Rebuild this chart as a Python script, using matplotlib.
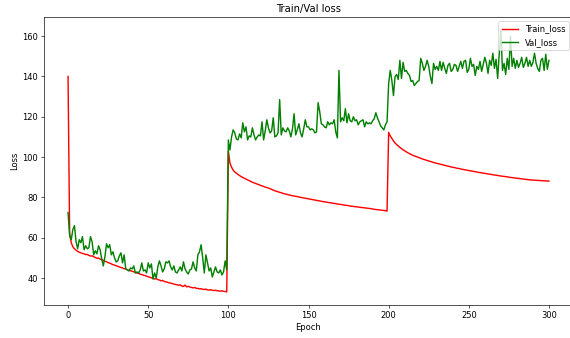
import numpy as np
import matplotlib
matplotlib.use("Agg")
import matplotlib.pyplot as plt

# epochs 0..300
epochs = list(range(301))

train_loss = [
    140.0, 62.0, 57.5, 55.5, 54.5, 53.8, 53.2, 52.8, 52.5, 52.2,
    52.0, 51.6, 51.7, 51.2, 50.9, 51.0, 50.5, 50.2, 49.8, 49.9,
    49.4, 49.0, 48.8, 48.3, 48.1, 47.6, 47.4, 47.0, 46.6, 46.4,
    46.1, 45.8, 45.5, 45.2, 45.0, 44.6, 44.5, 44.1, 43.8, 43.6,
    43.3, 43.1, 42.7, 42.5, 42.3, 41.9, 41.7, 41.4, 41.2, 40.9,
    40.6, 40.4, 40.1, 39.8, 39.5, 39.7, 39.2, 39.0, 38.6, 38.8,
    38.3, 38.1, 37.9, 37.6, 37.5, 37.2, 37.0, 36.8, 36.6, 36.4,
    36.6, 36.0, 35.8, 36.5, 35.6, 35.9, 35.5, 35.3, 35.1, 35.3,
    34.9, 34.8, 34.6, 34.7, 34.4, 34.3, 34.5, 34.1, 34.0, 34.2,
    33.9, 33.8, 33.9, 33.7, 33.6, 33.5, 33.6, 33.4, 33.3, 33.1,
    103.0, 97.0, 95.0, 93.5, 92.6, 92.0, 91.4, 90.8, 90.3, 89.9,
    89.5, 89.1, 88.7, 88.3, 87.9, 87.5, 87.2, 86.9, 86.6, 86.3,
    86.0, 85.7, 85.4, 85.1, 84.9, 84.6, 84.3, 84.0, 83.6, 83.3,
    83.0, 82.8, 82.5, 82.3, 82.0, 81.8, 81.6, 81.4, 81.2, 81.0,
    80.8, 80.7, 80.5, 80.4, 80.2, 80.0, 79.9, 79.7, 79.6, 79.4,
    79.3, 79.1, 79.0, 78.8, 78.7, 78.5, 78.4, 78.2, 78.1, 77.9,
    77.8, 77.7, 77.5, 77.4, 77.3, 77.1, 77.0, 76.9, 76.7, 76.6,
    76.5, 76.4, 76.2, 76.1, 76.0, 75.9, 75.7, 75.6, 75.5, 75.4,
    75.3, 75.2, 75.1, 75.0, 74.9, 74.8, 74.7, 74.6, 74.5, 74.4,
    74.2, 74.1, 74.0, 73.9, 73.8, 73.7, 73.6, 73.5, 73.4, 73.2,
    112.2, 110.5, 109.2, 108.0, 107.0, 106.2, 105.5, 104.8, 104.2, 103.6,
    103.1, 102.6, 102.1, 101.7, 101.3, 100.9, 100.6, 100.3, 100.0, 99.7,
    99.4, 99.1, 98.8, 98.6, 98.3, 98.1, 97.8, 97.6, 97.3, 97.1,
    96.9, 96.7, 96.5, 96.3, 96.1, 95.9, 95.7, 95.5, 95.3, 95.1,
    94.9, 94.8, 94.6, 94.4, 94.3, 94.1, 93.9, 93.8, 93.6, 93.5,
    93.3, 93.2, 93.0, 92.9, 92.7, 92.6, 92.4, 92.3, 92.2, 92.0,
    91.9, 91.8, 91.6, 91.5, 91.4, 91.2, 91.1, 91.0, 90.9, 90.7,
    90.6, 90.5, 90.4, 90.3, 90.2, 90.0, 89.9, 89.8, 89.7, 89.6,
    89.5, 89.4, 89.3, 89.2, 89.1, 89.0, 88.9, 88.8, 88.7, 88.6,
    88.6, 88.5, 88.5, 88.4, 88.4, 88.3, 88.3, 88.2, 88.2, 88.1,
    88.1,
]

val_loss = [
    72.5, 61.0, 59.0, 64.0, 66.0, 58.0, 54.5, 59.0, 57.5, 60.5,
    54.0, 56.0, 54.5, 55.0, 60.5, 58.0, 51.5, 53.5, 52.0, 56.0,
    54.0, 49.5, 46.0, 50.5, 57.0, 55.0, 56.5, 51.5, 53.0, 50.0,
    48.0, 48.5, 51.0, 52.5, 47.5, 51.5, 44.5, 44.0, 43.5, 45.0,
    44.5, 46.0, 42.5, 43.0, 42.5, 44.0, 47.5, 43.5, 44.0, 42.5,
    47.5, 45.0, 47.0, 39.5, 42.5, 40.0, 45.5, 48.5, 46.0, 43.0,
    44.5, 48.0, 47.5, 48.5, 45.5, 44.0, 46.0, 43.0, 42.5, 44.0,
    45.5, 43.5, 48.0, 44.5, 43.0, 42.0, 44.0, 44.5, 48.0, 45.0,
    43.5, 51.5, 53.0, 56.5, 50.0, 42.5, 51.5, 47.5, 43.5, 45.0,
    40.5, 43.0, 45.5, 43.0, 42.5, 44.0, 41.5, 43.0, 48.5, 44.0,
    108.5, 103.5, 110.0, 113.5, 112.0, 109.0, 108.5, 111.5, 109.5, 117.0,
    112.5, 115.0, 108.5, 110.5, 110.0, 114.5, 111.0, 108.5, 110.0, 111.0,
    110.5, 117.5, 108.5, 113.0, 118.5, 114.5, 112.0, 113.0, 119.5, 110.0,
    110.5, 112.0, 128.5, 111.0, 114.5, 113.0, 112.5, 114.5, 113.0, 110.0,
    114.0, 121.5, 111.0, 113.5, 116.5, 112.0, 110.0, 114.0, 118.5, 115.0,
    115.0, 113.5, 114.0, 113.5, 112.0, 112.5, 127.0, 122.5, 116.5, 116.0,
    115.0, 114.5, 117.5, 116.0, 117.0, 116.5, 118.5, 112.5, 109.5, 143.0,
    117.5, 119.5, 118.0, 124.0, 117.0, 121.5, 118.0, 117.5, 120.0, 118.0,
    118.5, 116.0, 117.5, 118.0, 118.5, 115.0, 117.5, 116.5, 117.0, 116.5,
    118.0, 119.0, 122.0, 119.5, 117.5, 115.5, 114.5, 113.5, 116.0, 117.5,
    136.5, 143.0, 138.0, 130.5, 140.0, 141.0, 138.5, 148.0, 139.0, 147.0,
    142.5, 143.0, 141.5, 140.5, 137.5, 138.0, 135.5, 136.5, 137.5, 138.0,
    149.0, 146.5, 143.0, 145.0, 148.0, 145.0, 140.0, 136.5, 146.5, 143.5,
    145.0, 143.0, 147.5, 143.0, 147.0, 144.0, 141.5, 145.5, 146.5, 142.5,
    143.5, 146.0, 145.5, 142.5, 145.0, 147.5, 144.0, 147.5, 148.0, 142.0,
    143.5, 149.0, 145.0, 146.0, 140.5, 145.0, 143.5, 147.5, 142.5, 146.0,
    149.5, 146.5, 141.5, 148.0, 145.5, 151.5, 144.0, 148.5, 139.0, 151.5,
    163.0, 143.0, 146.5, 141.0, 149.0, 143.5, 160.0, 145.0, 149.0, 144.0,
    148.0, 144.5, 146.5, 149.5, 144.5, 146.5, 149.5, 145.0, 148.0, 145.0,
    147.0, 151.5, 146.5, 144.0, 142.5, 148.0, 149.0, 143.0, 151.0, 143.5,
    148.0,
]

W, H = 570, 338
DPI = 60  # the reference looks like a downscaled default figure
fig = plt.figure(figsize=(W / DPI, H / DPI), dpi=DPI)
ax = fig.add_axes([44 / W, 33 / H, 529 / W, 288 / H])

ax.plot(epochs, train_loss, color="red", linewidth=1.7, label="Train_loss")
ax.plot(epochs, val_loss, color="green", linewidth=1.7, label="Val_loss")

ax.set_title("Train/Val loss")
ax.set_xlabel("Epoch")
ax.set_ylabel("Loss")
ax.set_xticks([0, 50, 100, 150, 200, 250, 300])
ax.set_yticks([40, 60, 80, 100, 120, 140, 160])
ax.legend(loc="upper right")

fig.savefig("out.png", dpi=DPI)
